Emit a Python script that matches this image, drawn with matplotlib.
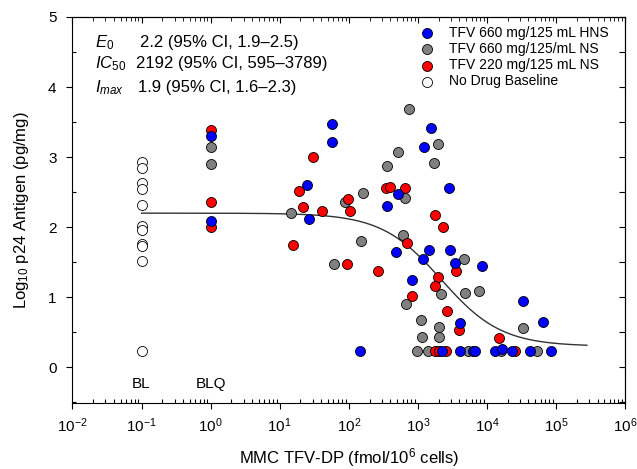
import numpy as np
import matplotlib
matplotlib.use("Agg")
import matplotlib.pyplot as plt
from matplotlib.ticker import LogLocator, MultipleLocator, NullFormatter, FixedLocator

plt.rcParams['font.family'] = ['Liberation Sans', 'DejaVu Sans']
plt.rcParams['mathtext.fontset'] = 'custom'
plt.rcParams['mathtext.rm'] = 'Liberation Sans'
plt.rcParams['mathtext.it'] = 'Liberation Sans:italic'

# fitted model parameters
E0 = 2.2
IC50 = 2192
IMAX = 1.9

# no drug baseline (plotted at the "BL" position, 0.1)
bl_y = [2.93, 2.85, 2.63, 2.55, 2.31, 2.02, 1.96, 1.76, 1.73, 1.52, 0.23]

# TFV 660 mg/125 mL HNS
hns_x = [1.0, 1.0, 26.9, 25.2, 57.9, 57.3, 146, 362, 518, 479, 834, 1538, 1245,
         2831, 1469, 1178, 2931, 3420, 4074, 8610, 33810, 65770,
         2265, 4083, 6368, 6823, 13120, 16410, 22910, 42170, 84920]
hns_y = [3.30, 2.09, 2.11, 2.60, 3.47, 3.21, 0.23, 2.30, 2.48, 1.65, 1.24, 3.42, 3.14,
         2.56, 1.67, 1.55, 1.68, 1.49, 0.63, 1.45, 0.94, 0.65,
         0.23, 0.23, 0.23, 0.23, 0.23, 0.26, 0.23, 0.23, 0.23]

# TFV 660 mg/125/mL NS
ns660_x = [1.0, 1.0, 14.5, 61.9, 89.3, 159, 152, 362, 518, 746, 653, 611, 682,
           1125, 1138, 1963, 1698, 2168, 2009, 2051, 4667, 4887, 7621, 33810,
           984, 1422, 1900, 5395, 15850, 53830]
ns660_y = [3.14, 2.90, 2.20, 1.47, 2.36, 2.49, 1.80, 2.88, 3.07, 3.68, 2.41, 1.89, 0.90,
           0.68, 0.43, 3.18, 2.92, 1.05, 0.57, 0.43, 1.55, 1.06, 1.09, 0.56,
           0.23, 0.23, 0.23, 0.23, 0.23, 0.23]

# TFV 220 mg/125 mL NS
ns220_x = [1.0, 1.0, 1.0, 15.5, 19.3, 22.0, 30.1, 40.6, 95.5, 98.9, 103, 265, 347,
           396, 653, 706, 824, 1774, 2344, 3540, 1986, 1774, 2618, 3981, 15170,
           1795, 2051, 2564, 25590]
ns220_y = [3.38, 2.36, 2.00, 1.75, 2.52, 2.29, 3.00, 2.23, 1.47, 2.40, 2.23, 1.38, 2.56,
           2.57, 2.56, 1.77, 1.02, 2.18, 2.00, 1.37, 1.29, 1.16, 0.81, 0.53, 0.42,
           0.23, 0.23, 0.23, 0.23]

x_decades = [1e-2, 1e-1, 1e0, 1e1, 1e2, 1e3, 1e4, 1e5, 1e6]

fig = plt.figure(figsize=(6.37, 4.69), dpi=100)
ax = fig.add_axes([0.1138, 0.1407, 0.8674, 0.8231])

mk = dict(s=52, edgecolors='black', linewidths=0.6)
ax.scatter(hns_x, hns_y, color='#0000ff', label='TFV 660 mg/125 mL HNS', zorder=5, **mk)
ax.scatter(ns660_x, ns660_y, color='#808080', label='TFV 660 mg/125/mL NS', zorder=3, **mk)
ax.scatter(ns220_x, ns220_y, color='#ff0000', label='TFV 220 mg/125 mL NS', zorder=4, **mk)
ax.scatter([0.1] * len(bl_y), bl_y, color='white', label='No Drug Baseline', zorder=3, **mk)

# model curve
conc = np.logspace(-1, np.log10(2.8e5), 300)
ax.plot(conc, E0 - IMAX * conc / (conc + IC50), color='#333333', lw=1.0, zorder=2)

ax.set_xscale('log')
ax.set_xlim(1e-2, 1e6)
ax.set_ylim(-0.51, 5)

ax.xaxis.set_major_locator(FixedLocator(x_decades))
ax.xaxis.set_minor_locator(LogLocator(base=10, subs=np.arange(2, 10), numticks=20))
ax.xaxis.set_minor_formatter(NullFormatter())
ax.yaxis.set_major_locator(MultipleLocator(1))
ax.yaxis.set_minor_locator(MultipleLocator(0.5))

ax.tick_params(which='major', direction='out', length=4.5, width=0.8, labelsize=11,
               top=False, right=False)
ax.tick_params(axis='y', which='major', pad=7)
ax.tick_params(axis='x', which='major', pad=5)
ax.tick_params(which='minor', direction='in', length=3, width=0.8, top=False, right=False)

top = ax.secondary_xaxis('top')
top.xaxis.set_major_locator(FixedLocator(x_decades))
top.xaxis.set_minor_locator(LogLocator(base=10, subs=np.arange(2, 10), numticks=20))
top.xaxis.set_minor_formatter(NullFormatter())
top.tick_params(which='both', direction='in', labeltop=False)
top.tick_params(which='major', length=4)
top.tick_params(which='minor', length=3)
right = ax.secondary_yaxis('right')
right.yaxis.set_major_locator(MultipleLocator(0.5))
right.tick_params(direction='in', length=4, labelright=False)

for sp in ax.spines.values():
    sp.set_linewidth(0.8)

ax.set_xlabel('MMC TFV-DP (fmol/10$^6$ cells)', fontsize=12, labelpad=8)
ax.set_ylabel('Log$_{10}$ p24 Antigen (pg/mg)', fontsize=12, labelpad=12)

ax.text(0.1, -0.24, 'BL', ha='center', va='center', fontsize=11)
ax.text(1.0, -0.24, 'BLQ', ha='center', va='center', fontsize=11)

# parameter estimates
trans = ax.get_yaxis_transform()
labels = [r'$\mathit{E_0}$', r'$\mathit{IC_{50}}$', r'$\mathit{I_{max}}$']
values = ['2.2 (95% CI, 1.9\u20132.5)', '2192 (95% CI, 595\u20133789)', '1.9 (95% CI, 1.6\u20132.3)']
value_x = [0.122, 0.115, 0.119]
row_y = [4.63, 4.33, 3.99]
for lab, val, vx, yy in zip(labels, values, value_x, row_y):
    ax.text(0.041, yy, lab, fontsize=12, va='center', ha='left', transform=trans)
    ax.text(vx, yy, val, fontsize=12, va='center', ha='left', transform=trans)

ax.legend(loc='upper left', bbox_to_anchor=(0.619, 0.991), frameon=False, fontsize=10,
          handletextpad=1.1, labelspacing=0.15, borderaxespad=0, handlelength=1.0)

fig.savefig('out.png', dpi=100)
